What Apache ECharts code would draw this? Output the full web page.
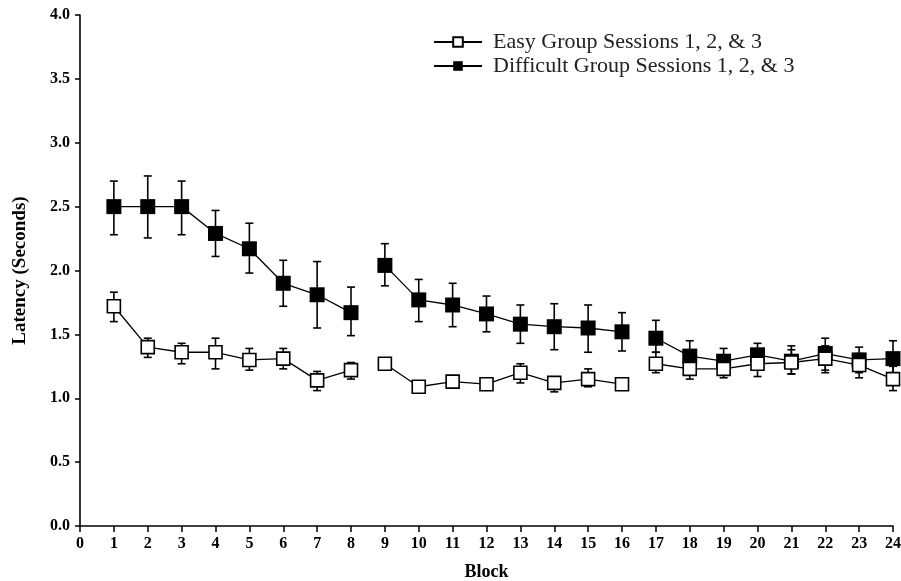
<!DOCTYPE html>
<html>
<head>
<meta charset="utf-8">
<script src="https://cdn.jsdelivr.net/npm/echarts@6/dist/echarts.min.js"></script>
<style>
  html, body { margin: 0; padding: 0; background: #fff; }
  #chart { width: 901px; height: 581px; }
</style>
</head>
<body>
<div id="chart"></div>
<script>
// blocks 1..24, three sessions of 8 blocks each
const blocks = [1, 2, 3, 4, 5, 6, 7, 8, 9, 10, 11, 12, 13, 14, 15, 16, 17, 18, 19, 20, 21, 22, 23, 24];
const sessions = [[0, 8], [8, 16], [16, 24]];

const easyMean = [1.72, 1.40, 1.36, 1.36, 1.30, 1.31, 1.14, 1.22, 1.27, 1.09, 1.13, 1.11,
                  1.20, 1.12, 1.15, 1.11, 1.27, 1.23, 1.23, 1.27, 1.28, 1.31, 1.26, 1.15];
const easyHi = [1.83, 1.47, 1.43, 1.47, 1.39, 1.39, 1.21, 1.28, 1.29, 1.10, 1.14, 1.12,
                1.27, 1.16, 1.23, 1.12, 1.36, 1.31, 1.31, 1.36, 1.38, 1.41, 1.35, 1.25];
const easyLo = [1.60, 1.32, 1.27, 1.23, 1.22, 1.23, 1.06, 1.15, 1.25, 1.08, 1.12, 1.10,
                1.12, 1.05, 1.09, 1.10, 1.20, 1.15, 1.16, 1.17, 1.19, 1.20, 1.16, 1.06];

const hardMean = [2.50, 2.50, 2.50, 2.29, 2.17, 1.90, 1.81, 1.67, 2.04, 1.77, 1.73, 1.66,
                  1.58, 1.56, 1.55, 1.52, 1.47, 1.33, 1.29, 1.34, 1.29, 1.35, 1.30, 1.31];
const hardHi = [2.70, 2.74, 2.70, 2.47, 2.37, 2.08, 2.07, 1.87, 2.21, 1.93, 1.90, 1.80,
                1.73, 1.74, 1.73, 1.67, 1.61, 1.45, 1.39, 1.43, 1.41, 1.47, 1.40, 1.45];
const hardLo = [2.28, 2.255, 2.28, 2.11, 1.98, 1.72, 1.55, 1.49, 1.88, 1.60, 1.56, 1.52,
                1.43, 1.38, 1.36, 1.37, 1.36, 1.22, 1.18, 1.23, 1.19, 1.22, 1.20, 1.20];

const yTicks = [0, 0.5, 1, 1.5, 2, 2.5, 3, 3.5, 4];

const easyName = 'Easy Group Sessions 1, 2, & 3';
const hardName = 'Difficult Group Sessions 1, 2, & 3';
const tickFont = 'Liberation Serif';

function lineSeries(name, mean, filled) {
    return sessions.map(s => ({
        name: name,
        type: 'line',
        z: 5,
        symbol: 'rect',
        symbolSize: filled ? 15 : 13,
        itemStyle: {
            color: filled ? '#000' : '#fff',
            borderColor: '#000',
            borderWidth: filled ? 0 : 1.6
        },
        lineStyle: { color: '#000', width: 1.3 },
        emphasis: { disabled: true },
        data: blocks.slice(s[0], s[1]).map((b, i) => [b, mean[s[0] + i]])
    }));
}

function errorSeries(id, lo, hi) {
    return {
        name: id,
        type: 'custom',
        z: 3,
        renderItem: function (params, api) {
            const x = api.value(0);
            const top = api.coord([x, api.value(2)]);
            const bot = api.coord([x, api.value(1)]);
            const cap = 4;
            const style = { stroke: '#000', lineWidth: 1.6 };
            return {
                type: 'group',
                children: [
                    { type: 'line', shape: { x1: top[0], y1: top[1], x2: bot[0], y2: bot[1] }, style: style },
                    { type: 'line', shape: { x1: top[0] - cap, y1: top[1], x2: top[0] + cap, y2: top[1] }, style: style },
                    { type: 'line', shape: { x1: bot[0] - cap, y1: bot[1], x2: bot[0] + cap, y2: bot[1] }, style: style }
                ]
            };
        },
        data: blocks.map((b, i) => [b, lo[i], hi[i]])
    };
}

const chart = echarts.init(document.getElementById('chart'));

const option = {
    backgroundColor: '#fff',
    animation: false,
    grid: { left: 80, right: 8, top: 15, bottom: 55, outerBoundsMode: 'none' },
    legend: {
        data: [easyName, hardName],
        orient: 'vertical',
        left: 428,
        top: 26,
        itemWidth: 48,
        itemHeight: 12,
        itemGap: 2,
        selectedMode: false,
        textStyle: { fontFamily: 'Liberation Serif', fontSize: 22, color: '#222', padding: [0, 0, 0, 6] }
    },
    xAxis: {
        type: 'value',
        min: 0,
        max: 24,
        interval: 1,
        name: 'Block',
        nameLocation: 'middle',
        nameGap: 37,
        nameTextStyle: { fontFamily: tickFont, fontWeight: 'bold', fontSize: 18, color: '#000' },
        splitLine: { show: false },
        axisLine: { lineStyle: { color: '#000', width: 1.6 } },
        axisTick: { length: 6, lineStyle: { color: '#000', width: 1.5 } },
        axisLabel: { fontFamily: tickFont, fontWeight: 'bold', fontSize: 16, color: '#000', margin: 10 }
    },
    yAxis: {
        type: 'value',
        min: 0,
        max: 4,
        interval: 0.5,
        name: 'Latency (Seconds)',
        nameLocation: 'middle',
        nameGap: 50,
        nameTextStyle: { fontFamily: tickFont, fontWeight: 'bold', fontSize: 19, color: '#000' },
        splitLine: { show: false },
        axisLine: { show: true, lineStyle: { color: '#000', width: 1.6 } },
        axisTick: { show: true, length: 5, lineStyle: { color: '#000', width: 1.5 } },
        axisLabel: {
            fontFamily: tickFont, fontWeight: 'bold', fontSize: 16, color: '#000', margin: 10,
            formatter: v => yTicks.includes(v) ? v.toFixed(1) : ''
        }
    },
    series: [
        errorSeries('easyErr', easyLo, easyHi),
        errorSeries('hardErr', hardLo, hardHi),
        ...lineSeries(hardName, hardMean, true),
        ...lineSeries(easyName, easyMean, false)
    ]
};

chart.setOption(option);
</script>
</body>
</html>
